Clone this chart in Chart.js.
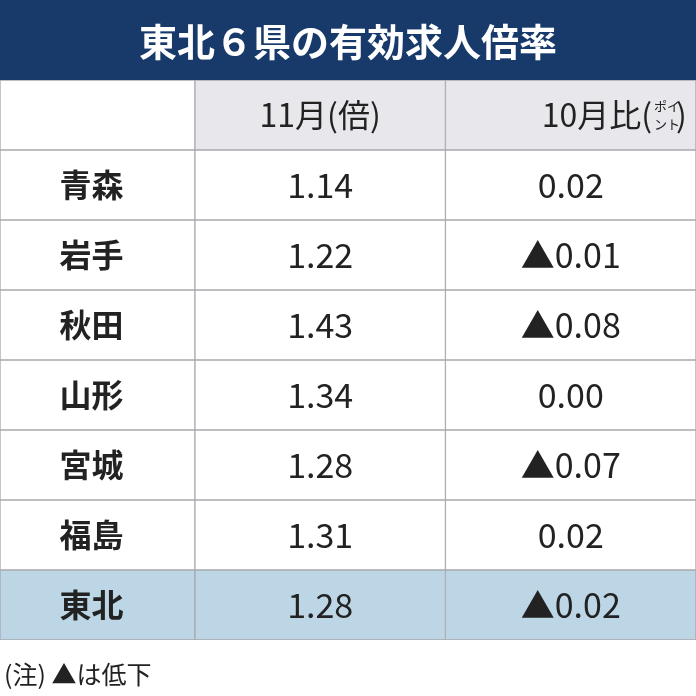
<!DOCTYPE html>
<html><head><meta charset="utf-8">
<script src="https://cdn.jsdelivr.net/npm/chart.js@4"></script>
<style>html,body{margin:0;padding:0;background:#fff}#c{display:block}</style>
</head><body>
<div style="width:696px;height:696px"><canvas id="c"></canvas></div>
<script>
// table content
const titleText = '東北６県の有効求人倍率';
const prefectures = ['青森', '岩手', '秋田', '山形', '宮城', '福島', '東北'];
const ratioNov = ['1.14', '1.22', '1.43', '1.34', '1.28', '1.31', '1.28'];
const changeOct = ['0.02', '▲0.01', '▲0.08', '0.00', '▲0.07', '0.02', '▲0.02'];
const headers = ['', '11月(倍)', '10月比'];
const noteText = '(注) ▲は低下';
// column edges in table units (0..100)
const colEdges = [0, 28, 64, 100];

const rowLabels = ['header'].concat(prefectures);
const FONT = '"Noto Sans CJK JP", "Noto Sans", sans-serif';

function cellColor(col) {
  return ctx => {
    const r = ctx.dataIndex;
    if (r === 0) return col === 0 ? '#ffffff' : '#e7e7ec';
    if (r === rowLabels.length - 1) return '#bcd6e6';
    return '#ffffff';
  };
}

const datasets = [0, 1, 2].map(col => ({
  data: rowLabels.map(() => [colEdges[col], colEdges[col + 1]]),
  backgroundColor: cellColor(col),
  borderColor: '#a8a8ae',
  borderWidth: 1,
  borderSkipped: false,
  barPercentage: 1,
  categoryPercentage: 1
}));

const tablePlugin = {
  id: 'tableText',
  beforeDraw(chart) {
    const c = chart.ctx;
    c.save();
    c.fillStyle = '#fff';
    c.fillRect(0, 0, chart.width, chart.height);
    c.fillStyle = '#173a6b';
    c.fillRect(0, 0, chart.width, 80);
    c.fillStyle = '#fff';
    c.font = 'bold 38px ' + FONT;
    c.textAlign = 'center';
    c.textBaseline = 'middle';
    c.fillText(titleText, chart.width / 2, 42);
    c.restore();
  },
  afterDatasetsDraw(chart) {
    const c = chart.ctx, x = chart.scales.x, y = chart.scales.y;
    const cx = i => x.getPixelForValue((colEdges[i] + colEdges[i + 1]) / 2);
    c.save();
    c.fillStyle = '#222';
    c.textBaseline = 'middle';
    c.textAlign = 'center';
    // header
    const hy = y.getPixelForValue(0);
    c.font = '32px ' + FONT;
    c.fillText(headers[1], cx(1), hy);
    c.textAlign = 'right';
    const hx = x.getPixelForValue(colEdges[3]) - 44;
    c.fillText(headers[2] + '(', hx, hy);
    c.textAlign = 'left';
    c.fillText(')', hx + 24, hy);
    c.font = '13px ' + FONT;
    c.fillText('ポイ', hx + 2, hy - 9);
    c.fillText('ント', hx + 2, hy + 9);
    // rows
    c.textAlign = 'center';
    prefectures.forEach((p, i) => {
      const py = y.getPixelForValue(i + 1);
      c.font = 'bold 32px ' + FONT;
      c.fillText(p, cx(0) - 6, py);
      c.font = '34px ' + FONT;
      c.fillText(ratioNov[i], cx(1), py);
      c.fillText(changeOct[i], cx(2), py);
    });
    // note
    c.textAlign = 'left';
    c.font = '25px ' + FONT;
    c.fillText(noteText, 4, chart.height - 22);
    c.restore();
  }
};

new Chart(document.getElementById('c'), {
  type: 'bar',
  data: { labels: rowLabels, datasets },
  options: {
    indexAxis: 'y',
    responsive: true,
    maintainAspectRatio: false,
    animation: false,
    layout: { padding: { top: 80, bottom: 56, left: 0, right: 0 } },
    scales: {
      x: { display: false, min: 0, max: 100 },
      y: { display: false, stacked: true }
    },
    plugins: { legend: { display: false }, tooltip: { enabled: false } }
  },
  plugins: [tablePlugin]
});
</script>
</body></html>
